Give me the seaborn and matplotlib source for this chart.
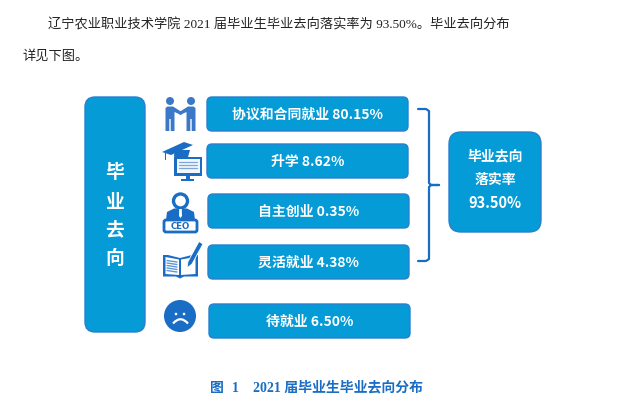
import numpy as np
import seaborn as sns
import matplotlib.pyplot as plt
from matplotlib.patches import FancyBboxPatch, Circle, Polygon, Rectangle, PathPatch
from matplotlib.path import Path

# 数据
categories = ['协议和合同就业', '升学', '自主创业', '灵活就业', '待就业']
values = [80.15, 8.62, 0.35, 4.38, 6.50]
total_title = ['毕业去向', '落实率']
total_value = 93.50
side_title = ['毕', '业', '去', '向']
body_lines = ['辽宁农业职业技术学院 2021 届毕业生毕业去向落实率为 93.50%。毕业去向分布', '详见下图。']

# 布局 (像素)
box_left = [207, 207, 208, 208, 209]
box_top = [97, 144, 194, 245, 304]
box_w = 201
box_h = 34

BLUE = '#059bd7'
EDGE = '#2a7fd0'
ICON = '#1a6dc4'
BODY = ['Liberation Serif', 'Noto Sans CJK SC']
SANS = ['Noto Sans CJK SC', 'DejaVu Sans']

sns.set_theme(style='white')
plt.rcParams['font.family'] = SANS

fig, ax = plt.subplots(figsize=(6.27, 4.15), dpi=100)
ax.set_position([0, 0, 1, 1])


def rbox(x, y, w, h, r, fc=BLUE, ec=EDGE, lw=1.0):
    ax.add_patch(FancyBboxPatch((x, y), w, h, boxstyle='round,pad=0,rounding_size=%s' % r,
                                fc=fc, ec=ec, lw=lw))


# 括号
bx = [418, 426, 429, 429, 431, 439, 431, 429, 429, 426, 418]
by = [109, 109, 111, 183, 185, 185, 185, 187, 259, 261, 261]
sns.lineplot(x=bx, y=by, sort=False, estimator=None, color=ICON, lw=1.6, ax=ax, legend=False)
ax.set_xlim(0, 627)
ax.set_ylim(415, 0)
ax.axis('off')

# 正文
ax.text(48, 24.5, body_lines[0], family=BODY, fontsize=9.5, color='#222222', va='center')
ax.text(22, 56, body_lines[1], family=BODY, fontsize=9.5, color='#222222', va='center')

# 左侧竖条
rbox(85, 97, 60, 235, 10)
for t, y in zip(side_title, [172, 202, 230, 258]):
    ax.text(115, y, t, color='white', fontsize=13.5, fontweight='bold', ha='center', va='center')

# 五个条目
for c, v, x, y in zip(categories, values, box_left, box_top):
    rbox(x, y, box_w, box_h, 5)
    ax.text(x + box_w / 2, y + box_h / 2 + 0.5, '%s %.2f%%' % (c, v), color='white', fontsize=10,
            fontweight='bold', ha='center', va='center')

# 右侧方块
rbox(449, 132, 92, 100, 12)
ax.text(495, 156, total_title[0], color='white', fontsize=10, fontweight='bold', ha='center', va='center')
ax.text(495, 180, total_title[1], color='white', fontsize=10, fontweight='bold', ha='center', va='center')
ax.text(495, 203, '%.2f%%' % total_value, color='white', fontsize=10.5, fontweight='bold', ha='center', va='center')

# 图标: 握手
PEOPLE = '#3c78c8'
for cx, sgn in [(170, 1), (191, -1)]:
    ax.add_patch(Circle((cx, 101), 4, fc=PEOPLE, ec='none'))
    ax.add_patch(Polygon([(cx - sgn * 4.5, 108), (cx - sgn * 2.5, 106.5), (cx + sgn * 3, 106.5), (cx + sgn * 12.5, 112.5),
                          (cx + sgn * 11, 115), (cx + sgn * 4.5, 112), (cx + sgn * 4.5, 131), (cx + sgn * 0.7, 131),
                          (cx + sgn * 0.7, 119), (cx - sgn * 0.7, 119), (cx - sgn * 0.7, 131), (cx - sgn * 4.5, 131)],
                         fc=PEOPLE, ec='none'))

# 图标: 学士帽和显示器
ax.add_patch(Polygon([(174, 155), (175, 150), (190, 150), (188, 157), (175, 160)], fc=ICON, ec='none'))
ax.add_patch(Polygon([(162, 152), (184, 142), (193, 145), (171, 155)], fc=ICON, ec='none'))
ax.add_patch(Rectangle((165, 153), 1, 7, fc=ICON, ec='none'))
ax.add_patch(Rectangle((174, 157), 28, 19, fc=ICON, ec='none'))
ax.add_patch(Rectangle((176.5, 159.5), 23, 14, fc='#f4f8fc', ec='none'))
for y in [162.5, 165.5, 168.5]:
    ax.plot([179, 197], [y, y], color='#7aa8dc', lw=0.9)
ax.add_patch(Rectangle((186, 176), 3.5, 3, fc=ICON, ec='none'))
ax.add_patch(Rectangle((181, 179), 13, 1.6, fc=ICON, ec='none'))

# 图标: CEO
ax.add_patch(Polygon([(166, 220), (167, 212), (174, 208.5), (187, 208.5), (194, 212), (195, 220)], fc=ICON, ec='none'))
ax.add_patch(Circle((180.5, 201), 7, fc='white', ec=ICON, lw=2.4))
ax.add_patch(Polygon([(179.2, 209), (181.8, 209), (182, 216), (180.5, 218), (179, 216)], fc='white', ec='none'))
rbox(164, 220, 33, 12, 2, fc='white', ec=ICON, lw=2.0)
ax.text(180.5, 226, 'CEO', family='DejaVu Sans', color=ICON, fontsize=6.2, fontweight='bold', ha='center', va='center')

# 图标: 书和笔
ax.add_patch(Polygon([(163, 255), (168, 255), (180, 258), (192, 255), (198, 255), (198, 276.5), (184, 276.5),
                      (180, 278.5), (176, 276.5), (163, 276.5)], fc=ICON, ec='none'))
ax.add_patch(Polygon([(165.5, 257), (179, 259.5), (179, 275), (165.5, 274)], fc='white', ec='none'))
ax.add_patch(Polygon([(181, 259.5), (195.5, 257), (195.5, 274), (181, 275)], fc='white', ec='none'))
for y in [260.5, 263, 265.5, 268, 270.5]:
    ax.plot([167, 177], [y, y + 1.5], color='#5f97d8', lw=1.0)
ax.add_patch(Polygon([(199, 241.5), (203, 244), (192, 264), (187, 268), (188, 261.5)], fc=ICON, ec='white', lw=0.6))

# 图标: 哭脸
ax.add_patch(Circle((180, 316), 16, fc=ICON, ec='none'))
ax.add_patch(Circle((176, 314), 1.3, fc='white', ec='none'))
ax.add_patch(Circle((184, 314), 1.3, fc='white', ec='none'))
ax.add_patch(PathPatch(Path([(173, 323.5), (180.5, 315), (188, 323.5)], [Path.MOVETO, Path.CURVE3, Path.CURVE3]),
                       fc='none', ec='white', lw=1.6))

# 图注
ax.text(210, 388, '图', color=ICON, fontsize=10, fontweight='bold', va='center')
ax.text(232, 388, '1', family=BODY, color=ICON, fontsize=10, fontweight='bold', va='center')
ax.text(253, 388, '2021 届毕业生毕业去向分布', family=BODY, color=ICON, fontsize=10, fontweight='bold', va='center')

fig.savefig('out.png', dpi=100)
